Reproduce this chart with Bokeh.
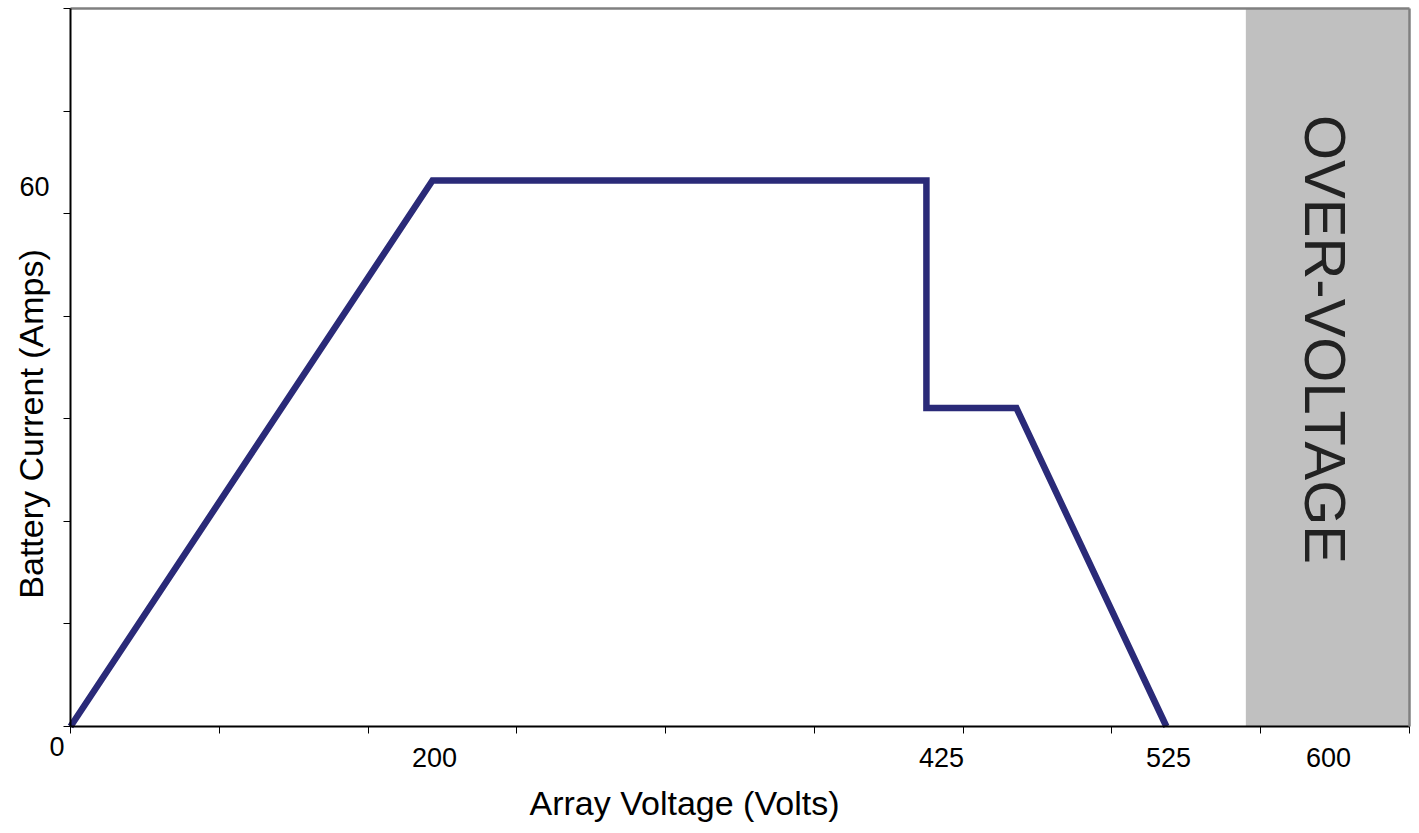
import math
from bokeh.plotting import figure
from bokeh.models import Range1d, FixedTicker, LinearAxis
from bokeh.core.properties import value
from bokeh.embed import file_html
from bokeh.resources import INLINE

# ---- data (x and y measured in grid divisions of the chart) ----
curve_x = [0.0, 2.433, 5.753, 5.753, 6.358, 7.366]
curve_y = [0.0, 5.323, 5.323, 3.105, 3.105, 0.0]

x_divisions = list(range(10))
y_divisions = list(range(8))

overvoltage_start = 7.90
overvoltage_end = 9.0

x_tick_labels = ["0", "200", "425", "525", "600"]
x_tick_label_x = [-0.091, 2.447, 5.854, 7.380, 8.455]
x_tick_label_y = [-0.195, -0.3025, -0.3025, -0.3025, -0.3025]
y_tick_labels = ["60"]
y_tick_label_x = [-0.242]
y_tick_label_y = [5.264]

x_title = "Array Voltage (Volts)"
y_title = "Battery Current (Amps)"
zone_text = "OVER-VOLTAGE"

# ---- figure (frame covers the whole canvas; axes are pinned inside it) ----
W, H = 1413, 830
LEFT, TOP, RIGHT_EDGE, BOTTOM = 70, 8, 1409, 726
XMAX, YMAX = 9.0, 7.0
sx = (RIGHT_EDGE - LEFT) / XMAX
sy = (BOTTOM - TOP) / YMAX

p = figure(width=W, height=H, output_backend="svg", toolbar_location=None,
           x_range=Range1d(-LEFT / sx, XMAX + (W - RIGHT_EDGE) / sx),
           y_range=Range1d(-(H - BOTTOM) / sy, YMAX + TOP / sy),
           min_border=0)
p.background_fill_color = "white"
p.border_fill_color = "white"
p.outline_line_color = None
p.xgrid.visible = False
p.ygrid.visible = False

bottom_ax = p.below[0]
left_ax = p.left[0]


def style_axis(ax, ticks, bounds, loc, color, width, tick_out):
    ax.fixed_location = loc
    ax.bounds = bounds
    ax.ticker = FixedTicker(ticks=ticks)
    ax.major_label_overrides = {t: "" for t in ticks}
    ax.major_label_text_font_size = "1px"
    ax.minor_tick_line_color = None
    ax.major_tick_in = 0
    ax.major_tick_out = tick_out
    ax.axis_line_color = color
    ax.axis_line_width = width
    ax.major_tick_line_color = "black" if tick_out else None
    ax.major_tick_line_width = 1


# over-voltage zone
p.quad(left=[overvoltage_start], right=[overvoltage_end], bottom=[0], top=[YMAX],
       fill_color="#c0c0c0", line_color=None)

top_ax = LinearAxis()
right_ax = LinearAxis()
p.add_layout(top_ax, "above")
p.add_layout(right_ax, "right")
style_axis(top_ax, [0], (0, XMAX), YMAX, "#808080", 2.5, 0)
style_axis(right_ax, [0], (0, YMAX), XMAX, "#808080", 2.5, 0)
style_axis(bottom_ax, x_divisions, (0, XMAX), 0, "black", 2, 7)
style_axis(left_ax, y_divisions, (0, YMAX), 0, "black", 2, 7)

# curve
p.line(curve_x, curve_y, line_color="#2a2a78", line_width=6.5, line_join="miter")

font = value("Liberation Sans")

p.text(x=x_tick_label_x, y=x_tick_label_y, text=x_tick_labels, text_align="center",
       text_baseline="alphabetic", text_font=font, text_font_size="27px",
       text_color="black")
p.text(x=y_tick_label_x, y=y_tick_label_y, text=y_tick_labels, text_align="center",
       text_baseline="alphabetic", text_font=font, text_font_size="27px",
       text_color="black")

p.text(x=[4.127], y=[-0.745], text=[x_title], text_align="center",
       text_baseline="alphabetic", text_font=font, text_font_size="34px",
       text_color="black")
p.text(x=[-0.2675], y=[2.95], text=[y_title], text_align="center", angle=math.pi / 2,
       text_baseline="alphabetic", text_font=font, text_font_size="34px",
       text_color="black")

p.text(x=[8.438], y=[3.773], text=[zone_text], text_align="center", angle=-math.pi / 2,
       text_baseline="alphabetic", text_font=font,
       text_font_size="58px", text_color="#222222")

open("out.html", "w").write(file_html(p, INLINE))
